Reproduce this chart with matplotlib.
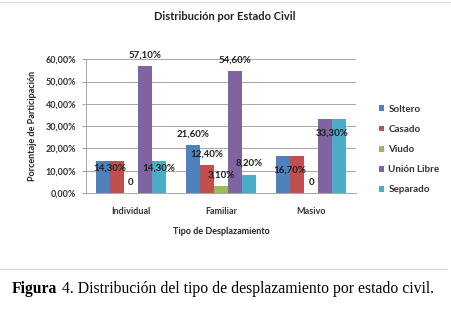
import matplotlib.pyplot as plt
import numpy as np

# datos
categorias = ['Individual', 'Familiar', 'Masivo']
series = ['Soltero', 'Casado', 'Viudo', 'Unión Libre', 'Separado']
soltero = [14.3, 21.6, 16.7]
casado = [14.3, 12.4, 16.7]
viudo = [0, 3.1, 0]
union_libre = [57.1, 54.6, 33.3]
separado = [14.3, 8.2, 33.3]
valores = [soltero, casado, viudo, union_libre, separado]
colores = ['#4F81BD', '#C0504D', '#9BBB59', '#8064A2', '#4BACC6']


def etiqueta(v):
    if v == 0:
        return '0'
    return ('%.2f%%' % v).replace('.', ',')


plt.rcParams['font.family'] = ['Lato', 'DejaVu Sans']
fig = plt.figure(figsize=(4.52, 3.09), dpi=100)
ax = fig.add_axes([0.190, 0.3754, 0.598, 0.4327])

n = len(series)
ancho = 0.78 / n
x = np.arange(len(categorias))
for i, (nombre, vals) in enumerate(zip(series, valores)):
    ax.bar(x + (i - (n - 1) / 2) * ancho, vals, ancho, color=colores[i],
           label=nombre, zorder=2)

# etiquetas de datos (posicion como en el original de Excel)
# (categoria, serie o par de series, desplazamiento vertical)
marcas = [(0, [0, 1], -3.1), (0, [2], 4.9), (0, [3], 4.9), (0, [4], -3.1),
          (1, [0], 4.8), (1, [1], 5.1), (1, [2], 4.9), (1, [3], 4.9), (1, [4], 5.2),
          (2, [0, 1], -6.4), (2, [2], 4.9), (2, [3, 4], -6.3)]
for c, idx, dy in marcas:
    xc = np.mean([x[c] + (i - (n - 1) / 2) * ancho for i in idx])
    v = valores[idx[0]][c]
    ax.text(xc, v + dy, etiqueta(v), ha='center', va='center', fontsize=7,
            color='#1F1F1F', fontweight='bold', zorder=3)

ax.set_xlim(-0.5, 2.5)
ax.set_ylim(0, 60)
ax.set_yticks(np.arange(0, 61, 10))
ax.set_yticklabels([('%.2f%%' % t).replace('.', ',') for t in np.arange(0, 61, 10)])
ax.set_xticks(x)
ax.set_xticklabels(categorias)
ax.yaxis.grid(True, color='#A6A6A6', linewidth=0.7, zorder=0)
for s in ['top', 'right']:
    ax.spines[s].set_visible(False)
for s in ['left', 'bottom']:
    ax.spines[s].set_color('#A6A6A6')
    ax.spines[s].set_linewidth(0.7)
ax.tick_params(axis='y', length=3, color='#A6A6A6', labelsize=6.5, pad=4,
               labelcolor='#333333')
ax.tick_params(axis='x', length=0, labelsize=6.5, pad=10, labelcolor='#333333')
for t in ax.get_yticklabels() + ax.get_xticklabels():
    t.set_fontweight('bold')

ax.set_xlabel('Tipo de Desplazamiento', fontsize=6.5, fontweight='bold',
              labelpad=8, color='#222222')
ax.set_ylabel('Porcentaje de Participación', fontsize=6.5, fontweight='bold',
              labelpad=6, color='#222222')
fig.text(0.498, 0.945, 'Distribución por Estado Civil', ha='center', va='center',
         fontsize=8, fontweight='bold', color='#222222')

leg = ax.legend(loc='center left', bbox_to_anchor=(1.07, 0.325), frameon=False,
                fontsize=7.1, handlelength=0.55, handleheight=0.55,
                labelspacing=1.12, handletextpad=0.4, borderaxespad=0)
for t in leg.get_texts():
    t.set_fontweight('bold')
    t.set_color('#333333')

# marco y leyenda de la figura
fig.add_artist(plt.Line2D([0, 1], [0.995, 0.995], color='#E0E0E0', linewidth=1))
fig.add_artist(plt.Line2D([0, 0.99], [1 - 269 / 309, 1 - 269 / 309],
                          color='#D9D9D9', linewidth=1))
fig.text(12 / 452, 1 - 289 / 309, 'Figura', ha='left', va='center', fontsize=11.3,
         fontweight='bold', family='Liberation Serif')
fig.text(62 / 452, 1 - 289 / 309, '4. Distribución del tipo de desplazamiento por estado civil.',
         ha='left', va='center', fontsize=11.3, family='Liberation Serif')

fig.savefig('out.png', dpi=100)
